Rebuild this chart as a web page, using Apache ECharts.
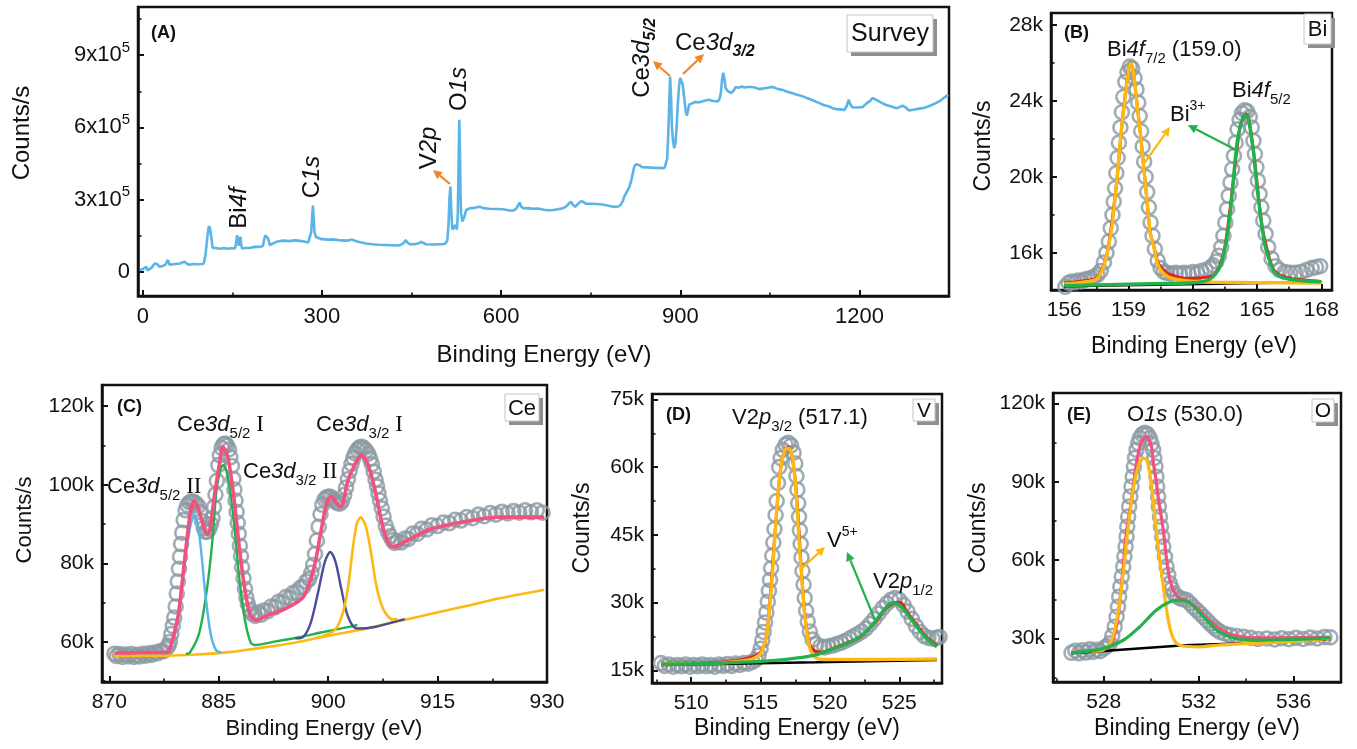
<!DOCTYPE html>
<html>
<head>
<meta charset="utf-8">
<script src="https://cdn.jsdelivr.net/npm/echarts@6/dist/echarts.min.js"></script>
<style>
  html, body { margin: 0; padding: 0; background: #fff; }
  #chart { width: 1357px; height: 749px; }
</style>
</head>
<body>
<div id="chart"></div>
<script>
// values: binding energy (eV), counts in thousands per second

// (A) survey
const surveyCurve = [
  [-5,8],[0,12],[3,20],[6,21],[8,6],[11,14],[15,18],[20,35],[24,33],[28,21],[33,25],[38,30],[42,50],[45,30],[48,29],
  [55,33],[62,35],[70,42],[74,34],[78,30],[85,33],[92,32],[98,33],[102,34],[105,70],[107.5,132],[110,180],[111,190],
  [113,175],[115,140],[117,100],[120,92],[124,98],[130,96],[136,99],[142,96],[148,98],[154,97],[156,115],[158,153],
  [159.5,120],[161,110],[163.5,146],[165,110],[166.5,97],[172,99],[180,100],[188,104],[196,104],[201,108],[203,130],
  [205,152],[207,150],[209.5,140],[213,111],[218,118],[225,126],[235,130],[245,128],[255,131],[263,129],[270,126],
  [277,122],[280,128],[282,165],[284,240],[285,275],[286,230],[287.5,165],[290,145],[293,137],[300,136],[310,134],
  [318,135],[328,132],[338,130],[346,131],[350,135],[354,130],[362,124],[374,118],[385,115],[395,113],[405,112],
  [415,111],[425,110],[432,112],[437,120],[440,132],[443,122],[447,115],[455,115],[462,119],[466,125],[470,120],
  [474,115],[485,114],[495,115],[502,115],[507,118],[510,132],[512,200],[513.5,300],[515,354],[516.5,260],[518,185],
  [519,176],[521,185],[523,195],[525,185],[526,176],[527.5,240],[529,480],[530,632],[531,520],[532,330],[533,243],
  [535,210],[536,205],[538,225],[541.5,257],[548,265],[555,266],[564,271],[570,265],[580,262],[592,261],[603,260],
  [612,256],[620,254],[625,262],[629,278],[631,288],[634,270],[638,264],[646,265],[654,262],[662,263],[672,258],
  [680,256],[687,257],[695,260],[702,263],[708,270],[713,282],[717,292],[720,280],[724,270],[729,283],[734,294],
  [738,290],[742,283],[750,283],[760,282],[770,280],[780,275],[788,271],[792,270],[796,272],[800,277],[804,295],
  [806,312],[810,330],[815,354],[818,380],[821,415],[823,437],[826,447],[829,449],[832,443],[836,435],[845,434],
  [855,432],[865,432],[870,431],[874,433],[876,437],[878,470],[880,578],[881.5,700],[883,810],[884.5,730],[886,604],
  [888,540],[890,514],[892,535],[894,604],[896,700],[898,771],[900,805],[902,810],[904,780],[907,715],[909,670],
  [911,649],[913,670],[915,695],[920,700],[925,706],[930,704],[937,708],[942,712],[948,715],[955,710],[963,708],
  [966,720],[968,743],[970,800],[972,827],[974,800],[976,762],[980,750],[985,743],[989,752],[993,768],[998,765],
  [1003,770],[1008,766],[1013,768],[1018,768],[1021,776],[1025,766],[1032,759],[1040,762],[1048,766],[1055,768],
  [1060,763],[1066,758],[1072,755],[1077,750],[1085,744],[1093,738],[1100,733],[1105,729],[1112,722],[1120,715],
  [1127,707],[1133,701],[1140,693],[1148,688],[1155,680],[1161,676],[1168,675],[1175,673],[1179,690],[1182,715],
  [1185,695],[1188,684],[1195,683],[1200,684],[1205,684],[1212,700],[1218,710],[1222,722],[1225,720],[1230,712],
  [1238,701],[1245,693],[1252,688],[1261,680],[1266,683],[1272,690],[1277,684],[1283,670],[1290,673],[1298,677],
  [1306,680],[1314,686],[1322,694],[1328,701],[1335,710],[1340,720],[1345,729],[1349,735]
];
const surveyTicksX = [0, 300, 600, 900, 1200];
const surveyTicksY = [0, 300, 600, 900];

// (B) Bi 4f
const biScan = [
  [156.05,14.22],[156.2,14.42],[156.35,14.5],[156.5,14.45],[156.65,14.55],[156.8,14.5],[156.95,14.6],[157.1,14.62],
  [157.25,14.68],[157.4,14.75],[157.55,14.85],[157.7,15.05],[157.85,15.5],[157.97,16.0],[158.08,16.6],[158.17,17.3],
  [158.25,18.0],[158.31,18.7],[158.37,19.4],[158.43,20.2],[158.49,21.0],[158.55,21.8],[158.62,22.6],[158.69,23.4],
  [158.76,24.2],[158.85,25.0],[158.95,25.5],[159.06,25.8],[159.17,25.7],[159.28,25.2],[159.37,24.6],[159.45,23.9],
  [159.52,23.2],[159.59,22.4],[159.66,21.6],[159.73,20.8],[159.8,20.0],[159.87,19.2],[159.95,18.4],[160.03,17.6],
  [160.12,16.9],[160.23,16.2],[160.36,15.6],[160.5,15.2],[160.65,15.0],[160.8,14.95],[161.0,14.9],[161.2,14.95],
  [161.4,14.9],[161.6,14.95],[161.8,14.92],[162.0,15.0],[162.2,14.95],[162.4,15.05],[162.6,15.1],[162.8,15.2],
  [162.95,15.35],[163.1,15.55],[163.22,15.85],[163.33,16.3],[163.43,16.9],[163.52,17.6],[163.6,18.3],[163.68,19.0],
  [163.76,19.7],[163.84,20.4],[163.92,21.1],[164.0,21.8],[164.09,22.5],[164.19,23.0],[164.3,23.35],[164.42,23.5],
  [164.54,23.45],[164.66,23.15],[164.75,22.6],[164.83,21.9],[164.9,21.2],[164.97,20.5],[165.04,19.8],[165.12,19.1],
  [165.2,18.4],[165.29,17.7],[165.4,17.0],[165.52,16.3],[165.68,15.7],[165.86,15.3],[166.05,15.1],[166.3,15.0],
  [166.55,14.95],[166.8,14.95],[167.05,15.0],[167.3,15.1],[167.55,15.2],[167.75,15.25],[167.95,15.3]
];
const biEnvelope = [
  [156.0,14.42],[156.6,14.48],[157.1,14.56],[157.5,14.68],[157.84,15.36],[158.07,16.42],[158.43,19.56],[158.77,23.58],
  [159.1,26.03],[159.46,23.22],[159.78,19.72],[160.01,17.1],[160.17,16.42],[160.4,15.42],[160.8,14.95],[161.2,14.78],
  [161.73,14.66],[162.4,14.7],[162.97,14.82],[163.28,15.4],[163.52,16.45],[163.87,19.56],[164.22,22.7],[164.5,23.32],
  [164.84,21.3],[165.23,17.45],[165.62,15.55],[165.8,15.08],[166.1,14.82],[166.6,14.66],[167.3,14.56],[168.0,14.5]
];
const biBackground = [[156.0,14.25],[168.0,14.47]];
const bi4f72 = [
  [156.0,14.36],[156.6,14.42],[157.1,14.5],[157.5,14.62],[157.84,15.3],[158.07,16.35],[158.23,17.4],[158.33,18.45],
  [158.43,19.5],[158.54,20.9],[158.65,22.3],[158.77,23.53],[158.88,24.58],[159.0,25.55],[159.1,25.99],[159.22,25.55],
  [159.34,24.41],[159.46,23.18],[159.55,22.3],[159.67,20.9],[159.78,19.68],[159.89,18.45],[160.01,17.05],
  [160.17,16.35],[160.4,15.3],[160.8,14.77],[161.3,14.6],[162.0,14.5],[163.0,14.46],[165.0,14.44],[168.0,14.42]
];
const bi4f52 = [
  [156.0,14.28],[158.0,14.33],[160.0,14.38],[162.04,14.43],[162.8,14.62],[163.28,15.3],[163.52,16.35],[163.67,17.4],
  [163.78,18.45],[163.87,19.5],[163.98,20.9],[164.09,21.96],[164.22,22.66],[164.37,23.18],[164.5,23.27],[164.6,23.0],
  [164.71,22.3],[164.84,21.26],[164.96,19.86],[165.07,18.8],[165.23,17.4],[165.38,16.35],[165.62,15.48],[165.8,15.0],
  [166.1,14.75],[166.6,14.6],[167.3,14.52],[168.0,14.48]
];
const biTicksX = [156, 159, 162, 165, 168];
const biTicksY = [16, 20, 24, 28];

// (C) Ce 3d
const ceScan = [
  [870.7,57.0],[871.0,56.4],[871.4,56.9],[871.8,56.2],[872.2,56.8],[872.6,56.3],[873.0,56.9],[873.4,56.2],[873.8,56.7],
  [874.2,56.3],[874.6,57.0],[875.0,56.5],[875.4,57.1],[875.8,56.7],[876.2,57.3],[876.6,57.1],[877.0,57.7],[877.4,57.6],
  [877.8,58.3],[878.1,59.0],[878.3,60.0],[878.5,62.0],[878.7,64.0],[878.9,66.2],[879.1,69.0],[879.25,72.3],[879.4,75.4],
  [879.55,78.6],[879.7,81.7],[879.85,84.9],[880.0,87.8],[880.2,91.0],[880.45,93.5],[880.7,94.8],[881.0,95.5],
  [881.3,95.8],[881.6,95.6],[881.9,95.2],[882.2,94.6],[882.45,93.0],[882.7,90.8],[882.95,89.0],[883.2,88.0],
  [883.45,88.1],[883.7,88.8],[883.95,90.0],[884.15,91.5],[884.35,94.3],[884.55,97.5],[884.75,101.0],[884.95,105.0],
  [885.15,107.5],[885.4,109.4],[885.65,110.3],[885.9,110.5],[886.15,110.0],[886.4,109.0],[886.6,107.0],[886.8,104.8],
  [887.0,101.5],[887.15,98.8],[887.3,96.0],[887.45,93.1],[887.6,90.3],[887.75,87.5],[887.9,84.5],[888.05,81.8],
  [888.2,79.0],[888.4,76.2],[888.6,73.5],[888.8,71.3],[889.0,69.6],[889.3,68.1],[889.6,67.2],[890.0,66.6],[890.4,67.5],
  [890.8,66.9],[891.2,68.0],[891.7,67.8],[892.2,69.0],[892.7,68.8],[893.2,70.2],[893.7,70.0],[894.2,71.4],[894.7,71.2],
  [895.2,72.5],[895.7,72.6],[896.2,73.8],[896.6,74.0],[897.0,75.4],[897.4,76.0],[897.7,77.6],[897.95,79.6],[898.2,82.4],
  [898.45,85.8],[898.7,89.3],[898.95,92.5],[899.2,94.9],[899.5,96.3],[899.8,96.8],[900.1,97.0],[900.4,96.8],[900.7,96.2],
  [901.0,95.7],[901.3,95.3],[901.6,95.2],[901.9,95.8],[902.2,97.4],[902.45,99.3],[902.7,101.4],[902.95,103.5],
  [903.2,105.3],[903.45,106.8],[903.7,108.0],[904.0,108.9],[904.3,109.5],[904.6,109.7],[904.9,109.3],[905.2,108.7],
  [905.5,107.9],[905.75,106.6],[906.0,105.2],[906.25,103.3],[906.5,101.3],[906.7,99.6],[906.9,97.8],[907.1,96.0],
  [907.35,94.0],[907.6,91.9],[907.9,89.6],[908.2,88.1],[908.5,86.9],[908.8,85.9],[909.1,85.2],[909.5,85.6],[910.0,85.3],
  [910.5,86.3],[911.0,86.2],[911.6,87.6],[912.2,87.5],[912.8,88.8],[913.5,88.6],[914.2,89.7],[915.0,89.5],[915.8,90.4],
  [916.6,90.2],[917.4,91.1],[918.2,90.9],[919.0,91.8],[919.8,91.5],[920.6,92.4],[921.4,92.0],[922.2,92.8],[923.0,92.4],
  [923.8,93.1],[924.6,92.7],[925.4,93.3],[926.2,92.9],[927.0,93.5],[927.8,93.0],[928.6,93.5],[929.4,92.9]
];
const ceEnvelope = [
  [870.7,57.2],[872.5,57.2],[874.5,57.3],[876.5,57.3],[878.02,57.4],[878.51,59.6],[879.0,63.0],[879.49,67.2],
  [880.22,79.1],[880.96,91.0],[881.3,94.5],[881.6,95.9],[881.95,95.0],[882.42,92.7],[883.16,88.0],[883.5,87.5],
  [883.8,88.6],[884.38,96.9],[885.11,105.4],[885.55,109.6],[886.0,108.5],[886.34,106.3],[887.07,96.9],[887.81,84.2],
  [888.53,74.0],[889.27,67.2],[890.01,65.5],[891.73,66.8],[894.16,68.5],[896.62,71.5],[898.08,79.1],[899.05,88.5],
  [899.79,95.2],[900.42,97.1],[901.25,95.1],[901.75,94.4],[902.73,101.2],[903.71,105.4],[904.54,107.5],[905.42,105.4],
  [906.4,98.9],[907.37,90.2],[908.11,85.9],[908.85,84.2],[911.29,86.3],[913.74,88.5],[916.18,89.7],[918.63,90.6],
  [923.52,91.8],[929.63,91.7]
];
const ceBackground = [
  [870.7,56.5],[878.0,56.5],[882.0,56.8],[886.5,57.4],[890.0,58.3],[894.75,59.6],[899.3,61.3],[905.26,63.4],
  [910.2,65.5],[914.0,67.1],[918.6,69.0],[923.5,71.1],[929.63,73.3]
];
const ce3d52II = [
  [877.5,57.2],[878.02,57.3],[879.0,62.1],[879.74,71.5],[880.47,82.5],[881.2,90.2],[881.68,92.3],[882.18,89.3],
  [882.67,81.7],[883.16,72.3],[883.89,62.1],[884.63,57.9],[885.36,57.3]
];
const ce3d52I = [
  [880.5,57.0],[881.05,57.3],[882.3,62.1],[883.3,72.3],[884.05,84.2],[884.7,98.6],[885.25,103.9],[885.6,105.0],
  [886.0,103.8],[886.4,100.5],[887.1,90.2],[887.85,75.7],[888.6,65.5],[889.35,60.0],[889.96,59.2],[893.0,60.2],
  [896.0,61.2],[899.0,62.4],[902.0,63.5],[904.0,64.3]
];
const ce3d32II = [
  [895.5,60.9],[896.6,61.3],[897.59,64.7],[898.58,72.3],[899.55,80.4],[900.29,82.9],[901.01,80.4],[901.75,74.0],
  [902.73,66.4],[903.95,63.4],[906.4,63.8],[909.82,65.5],[910.5,65.8]
];
const ce3d32I = [
  [898.5,61.1],[899.05,61.3],[900.9,63.0],[901.99,67.2],[902.73,74.0],[903.47,85.1],[903.95,90.2],[904.44,91.7],
  [905.18,89.3],[905.9,82.5],[906.64,74.0],[907.62,68.1],[908.85,65.7],[909.5,65.9]
];
const ceTicksX = [870, 885, 900, 915, 930];
const ceTicksY = [60, 80, 100, 120];

// (D) V 2p
const vScan = [
  [507.82,16.6],[508.1,16.0],[508.4,16.3],[508.7,15.8],[509.0,16.2],[509.3,15.9],[509.6,16.3],[509.9,15.8],[510.2,16.2],
  [510.5,15.9],[510.8,16.3],[511.1,15.9],[511.4,16.2],[511.7,15.8],[512.0,16.3],[512.3,16.0],[512.6,16.4],[512.9,16.0],
  [513.2,16.5],[513.5,16.2],[513.8,16.6],[514.1,16.5],[514.4,16.9],[514.65,17.3],[514.85,18.3],[515.0,19.8],
  [515.12,21.6],[515.22,23.5],[515.32,25.6],[515.42,27.8],[515.52,30.2],[515.6,32.6],[515.68,35.0],[515.76,37.6],
  [515.84,40.4],[515.92,43.3],[516.0,46.3],[516.08,49.4],[516.16,52.5],[516.25,56.5],[516.34,60.0],[516.45,62.0],
  [516.6,63.8],[516.8,65.0],[517.0,65.4],[517.2,64.8],[517.38,63.2],[517.5,60.8],[517.58,58.0],[517.65,55.0],
  [517.71,52.0],[517.77,49.0],[517.83,46.0],[517.89,43.0],[517.95,40.0],[518.02,37.0],[518.1,34.0],[518.18,31.0],
  [518.28,28.2],[518.4,25.8],[518.55,23.6],[518.75,21.8],[519.0,20.8],[519.3,20.3],[519.6,20.1],[519.9,20.3],
  [520.2,20.5],[520.5,20.8],[520.8,21.1],[521.1,21.5],[521.4,22.0],[521.7,22.5],[522.0,23.0],[522.3,23.6],[522.6,24.3],
  [522.9,25.3],[523.2,26.4],[523.5,27.6],[523.8,28.8],[524.1,29.8],[524.4,30.6],[524.7,31.0],[525.0,30.6],[525.3,29.5],
  [525.6,28.0],[525.9,26.4],[526.2,24.8],[526.5,23.5],[526.8,22.6],[527.1,22.2],[527.4,22.0],[527.7,22.2],[527.9,22.4]
];
const vEnvelope = [
  [507.82,16.6],[512.0,16.8],[514.0,17.6],[514.97,18.9],[515.46,23.4],[516.06,46.3],[516.54,61.8],[517.01,64.5],
  [517.49,57.4],[517.98,35.4],[518.22,26.6],[518.53,20.8],[518.94,19.2],[519.4,19.0],[519.78,19.3],[520.5,20.2],
  [521.5,21.4],[522.19,22.4],[523.39,26.1],[524.0,28.6],[524.59,29.9],[525.07,30.1],[525.55,28.0],[526.27,25.0],
  [526.99,22.3],[527.71,20.5]
];
const vBackground = [[507.82,16.2],[519.0,16.8],[527.71,17.3]];
const v2p32 = [
  [507.82,16.4],[510.0,16.5],[512.0,16.6],[514.0,17.2],[514.6,17.8],[514.97,18.6],[515.2,20.2],[515.46,23.1],
  [515.82,35.0],[516.06,46.0],[516.3,55.6],[516.54,61.5],[516.78,63.8],[517.01,64.2],[517.25,63.0],[517.49,57.1],
  [517.66,49.7],[517.8,42.3],[517.98,35.0],[518.22,26.1],[518.53,20.2],[518.94,17.9],[519.78,17.4],[523.0,17.4],
  [527.71,17.5]
];
const v2p12 = [
  [507.82,16.35],[510.0,16.45],[512.0,16.6],[515.0,17.0],[517.0,17.5],[518.82,18.3],[520.26,19.8],[521.49,21.3],
  [522.43,23.1],[523.15,25.4],[523.87,28.3],[524.47,29.9],[524.95,29.6],[525.55,27.6],[526.27,24.6],[526.99,22.0],
  [527.71,20.2]
];
const vTicksX = [510, 515, 520, 525];
const vTicksY = [15, 30, 45, 60, 75];

// (E) O 1s
const oScan = [
  [526.64,24.5],[526.8,25.3],[526.95,24.3],[527.1,25.5],[527.25,24.6],[527.4,25.8],[527.55,24.8],[527.7,25.6],
  [527.85,25.1],[528.0,26.2],[528.12,27.0],[528.25,28.1],[528.36,31.0],[528.46,34.5],[528.54,38.3],[528.6,42.1],
  [528.65,46.0],[528.7,49.8],[528.76,53.7],[528.82,57.5],[528.87,61.4],[528.92,65.2],[528.96,69.0],[528.99,72.9],
  [529.03,76.7],[529.07,80.6],[529.12,84.4],[529.17,88.2],[529.22,92.0],[529.27,95.9],[529.32,99.2],[529.38,102.3],
  [529.45,104.8],[529.52,106.8],[529.62,108.2],[529.73,108.8],[529.84,108.3],[529.94,106.8],[530.01,104.6],
  [530.08,102.3],[530.13,99.1],[530.18,95.9],[530.22,92.0],[530.25,88.2],[530.29,84.4],[530.32,80.6],[530.37,76.7],
  [530.41,72.9],[530.46,69.0],[530.51,65.2],[530.58,61.3],[530.65,57.5],[530.72,54.3],[530.79,51.1],[530.87,49.0],
  [530.96,47.3],[531.08,46.2],[531.21,45.4],[531.35,45.0],[531.49,44.7],[531.63,43.5],[531.77,42.1],[531.92,40.9],
  [532.06,39.6],[532.2,38.3],[532.34,37.0],[532.48,35.7],[532.62,34.5],[532.76,33.4],[532.9,32.5],[533.1,31.8],
  [533.32,31.3],[533.6,30.9],[533.89,30.6],[534.2,30.2],[534.5,29.8],[534.87,30.0],[535.2,29.6],[535.5,30.1],
  [535.8,29.7],[536.1,30.2],[536.4,29.8],[536.7,30.3],[537.0,30.0],[537.3,30.5],[537.55,30.4]
];
const oEnvelope = [
  [526.64,24.6],[527.5,25.3],[528.0,26.0],[528.25,26.8],[528.53,34.5],[528.74,49.8],[528.95,70.3],[529.17,83.1],
  [529.38,97.2],[529.59,105.5],[529.8,107.4],[530.01,103.6],[530.08,98.0],[530.2,91.0],[530.29,84.4],[530.51,71.6],
  [530.65,60.1],[530.79,52.4],[531.0,47.3],[531.21,45.4],[531.5,44.6],[532.0,41.0],[532.5,36.5],[533.0,33.0],
  [533.5,31.2],[534.5,30.2],[537.55,30.5]
];
const oBackground = [[526.64,24.3],[531.4,27.4],[534.0,28.2],[537.55,29.8]];
const o1sLattice = [
  [527.5,25.0],[527.97,25.5],[528.33,29.3],[528.6,39.6],[528.82,55.0],[529.03,72.9],[529.24,87.0],[529.45,95.9],
  [529.66,99.1],[529.8,98.5],[529.94,93.4],[530.11,80.6],[530.29,65.2],[530.51,49.8],[530.72,37.0],[530.93,30.0],
  [531.21,27.4],[532.06,26.8],[532.76,27.4],[534.17,28.1],[535.57,28.7],[537.55,30.0]
];
const o1sSecond = [
  [526.64,24.5],[527.83,25.8],[528.82,29.3],[529.52,34.5],[530.22,40.9],[530.79,44.1],[531.21,44.7],[531.63,43.5],
  [532.2,38.3],[532.76,33.2],[533.47,30.2],[534.17,29.4],[535.57,29.5],[537.55,30.2]
];
const oTicksX = [528, 532, 536];
const oTicksY = [30, 60, 90, 120];

// ---------------------------------------------------------------
const FONT = 'Arial, "Liberation Sans", sans-serif';
const SERIF = '"Times New Roman", "Liberation Serif", serif';
const INK = '#111';
const C_YEL = '#fdb913', C_GRN = '#22b24c', C_PINK = '#f2507e', C_RED = '#e2231a';
const C_SKY = '#5ab4e5', C_NAVY = '#4b4c9c', C_RING = '#8a99a3', C_ARROW = '#f0862a';

const chart = echarts.init(document.getElementById('chart'));

function minorOf(major, min, max) {
  const step = major[1] - major[0];
  const out = [];
  for (let v = major[0] - step / 2; v <= max + 1e-9; v += step) if (v >= min) out.push(v);
  return out;
}

// panel layouts
const panels = [
  { rect: { left: 138, top: 7, width: 811, height: 289 }, x: [-8, 1350], y: [-100, 1100], tx: surveyTicksX, ty: surveyTicksY, fs: 22 },
  { rect: { left: 1051, top: 13, width: 281, height: 277 }, x: [155.38, 168.5], y: [14.05, 28.62], tx: biTicksX, ty: biTicksY, fs: 21 },
  { rect: { left: 102, top: 385, width: 445, height: 297 }, x: [869, 930], y: [49.8, 125.4], tx: ceTicksX, ty: ceTicksY, fs: 21 },
  { rect: { left: 652, top: 394, width: 290, height: 289 }, x: [507.17, 528.08], y: [12.2, 76.2], tx: vTicksX, ty: vTicksY, fs: 21 },
  { rect: { left: 1053, top: 393, width: 288, height: 289 }, x: [525.86, 538.0], y: [13.3, 124.1], tx: oTicksX, ty: oTicksY, fs: 21 }
];

const grids = [], xAxes = [], yAxes = [];
panels.forEach((p, gi) => {
  grids.push(Object.assign({ show: true, borderColor: INK, borderWidth: 2.5, backgroundColor: 'transparent', containLabel: false, outerBoundsMode: 'none' }, p.rect));
  const tick = { show: true, inside: true, length: 6, lineStyle: { color: INK, width: 2 } };
  const minorTick = { show: true, inside: true, length: 3.5, lineStyle: { color: INK, width: 1.6 } };
  xAxes.push({
    type: 'value', gridIndex: gi, min: p.x[0], max: p.x[1], position: 'bottom',
    axisLine: { show: true, onZero: false, lineStyle: { color: INK, width: 2.5 } },
    axisTick: Object.assign({ customValues: p.tx }, tick),
    axisLabel: { customValues: p.tx, fontSize: p.fs, fontFamily: FONT, color: INK, margin: 10, formatter: v => String(v) },
    splitLine: { show: false }
  }, {
    type: 'value', gridIndex: gi, min: p.x[0], max: p.x[1], position: 'bottom',
    axisLine: { show: false, onZero: false }, axisLabel: { show: false }, splitLine: { show: false },
    axisTick: Object.assign({ customValues: minorOf(p.tx, p.x[0], p.x[1]) }, minorTick)
  });
  const yLabel = { customValues: p.ty, fontSize: p.fs, fontFamily: FONT, color: INK, margin: 8 };
  if (gi === 0) {
    yLabel.formatter = v => v === 0 ? '{n|0}' : '{n|' + (v / 100) + 'x10}{sup|5}';
    yLabel.rich = {
      n: { fontSize: 22, fontFamily: FONT, color: INK, lineHeight: 30 },
      sup: { fontSize: 15, fontFamily: FONT, color: INK, lineHeight: 15, verticalAlign: 'top' }
    };
  } else {
    yLabel.formatter = v => v + 'k';
  }
  yAxes.push({
    type: 'value', gridIndex: gi, min: p.y[0], max: p.y[1], position: 'left',
    axisLine: { show: true, onZero: false, lineStyle: { color: INK, width: 2.5 } },
    axisTick: Object.assign({ customValues: p.ty }, tick),
    axisLabel: yLabel,
    splitLine: { show: false }
  }, {
    type: 'value', gridIndex: gi, min: p.y[0], max: p.y[1], position: 'left',
    axisLine: { show: false, onZero: false }, axisLabel: { show: false }, splitLine: { show: false },
    axisTick: Object.assign({ customValues: minorOf(p.ty, p.y[0], p.y[1]) }, minorTick)
  });
});

function scan(gi, data) {
  return {
    type: 'scatter', xAxisIndex: gi * 2, yAxisIndex: gi * 2, data, symbol: 'circle', symbolSize: 14,
    itemStyle: { color: 'rgba(0,0,0,0)', borderColor: C_RING, borderWidth: 2.6 }, silent: true, z: 2
  };
}
function curve(gi, data, color, width, smooth) {
  return {
    type: 'line', xAxisIndex: gi * 2, yAxisIndex: gi * 2, data, showSymbol: false, symbol: 'none',
    smooth: smooth === undefined ? 0.3 : smooth, lineStyle: { color, width }, silent: true, z: 3
  };
}

const series = [
  curve(0, surveyCurve, C_SKY, 2.6, false),

  scan(1, biScan),
  curve(1, biEnvelope, C_RED, 3),
  curve(1, biBackground, '#000', 2.5, false),
  curve(1, bi4f72, C_YEL, 3.4),
  curve(1, bi4f52, C_GRN, 3.4),

  scan(2, ceScan),
  curve(2, ceBackground, C_YEL, 2.6),
  curve(2, ce3d52I, C_GRN, 2.4),
  curve(2, ce3d32II, C_NAVY, 2.4),
  curve(2, ce3d32I, C_YEL, 2.6),
  curve(2, ce3d52II, C_SKY, 2.4),
  curve(2, ceEnvelope, C_PINK, 3.6),

  scan(3, vScan),
  curve(3, vEnvelope, C_RED, 3),
  curve(3, vBackground, '#000', 2.5, false),
  curve(3, v2p32, C_YEL, 3.4),
  curve(3, v2p12, C_GRN, 3.4),

  scan(4, oScan),
  curve(4, oBackground, '#000', 2.5, false),
  curve(4, oEnvelope, C_PINK, 3.2),
  curve(4, o1sLattice, C_YEL, 3.2),
  curve(4, o1sSecond, C_GRN, 3.2)
];

// ---- annotations ----
function richSet(fs, sfs) {
  const lh = fs + 10;
  const base = { fontFamily: FONT, fill: INK, color: INK };
  return {
    n: Object.assign({ fontSize: fs, lineHeight: lh }, base),
    i: Object.assign({ fontSize: fs, lineHeight: lh, fontStyle: 'italic' }, base),
    sub: Object.assign({ fontSize: sfs, lineHeight: sfs, verticalAlign: 'bottom' }, base),
    subb: Object.assign({ fontSize: sfs, lineHeight: sfs, verticalAlign: 'bottom', fontStyle: 'italic', fontWeight: 'bold' }, base),
    sup: Object.assign({ fontSize: sfs, lineHeight: sfs, verticalAlign: 'top' }, base),
    b: Object.assign({ fontSize: fs, lineHeight: lh, fontWeight: 'bold' }, base),
    r: { fontSize: fs + 1, lineHeight: lh, fontFamily: SERIF, fill: INK, color: INK }
  };
}
function label(x, y, text, fs, sfs, opt) {
  opt = opt || {};
  const align = opt.align || 'left';
  return {
    type: 'text', x, y, rotation: opt.rot || 0, silent: true, z: 100,
    style: {
      text, rich: richSet(fs, sfs), font: fs + 'px ' + FONT, fill: INK,
      align, verticalAlign: 'middle', textAlign: align, textVerticalAlign: 'middle'
    }
  };
}
function arrow(x1, y1, x2, y2, color) {
  const a = Math.atan2(y2 - y1, x2 - x1), L = 9, W = 4.5;
  const bx = x2 - L * Math.cos(a), by = y2 - L * Math.sin(a);
  return [
    { type: 'line', silent: true, z: 100, shape: { x1, y1, x2: bx, y2: by }, style: { stroke: color, lineWidth: 2.2 } },
    { type: 'polygon', silent: true, z: 100, shape: { points: [[x2, y2], [bx + W * Math.sin(a), by - W * Math.cos(a)], [bx - W * Math.sin(a), by + W * Math.cos(a)]] }, style: { fill: color } }
  ];
}
function tagBox(x, y, w, h, text, fs) {
  return [
    { type: 'rect', silent: true, z: 99, shape: { x: x + 4, y: y + 4, width: w, height: h }, style: { fill: '#8e8e8e' } },
    { type: 'rect', silent: true, z: 100, shape: { x, y, width: w, height: h }, style: { fill: '#fff', stroke: '#c4c4c4', lineWidth: 1 } },
    label(x + w / 2, y + h / 2 + 1, '{n|' + text + '}', fs, 14, { align: 'center' })
  ];
}
const ROT = Math.PI / 2;
const graphics = [
  // axis titles
  label(22, 133, '{n|Counts/s}', 24, 16, { align: 'center', rot: ROT }),
  label(544, 355, '{n|Binding Energy (eV)}', 24, 16, { align: 'center' }),
  label(984, 146, '{n|Counts/s}', 23, 15, { align: 'center', rot: ROT }),
  label(1194, 347, '{n|Binding Energy (eV)}', 23, 15, { align: 'center' }),
  label(25, 520, '{n|Counts/s}', 22, 15, { align: 'center', rot: ROT }),
  label(324, 729, '{n|Binding Energy (eV)}', 22, 15, { align: 'center' }),
  label(583, 528, '{n|Counts/s}', 23, 15, { align: 'center', rot: ROT }),
  label(797, 729, '{n|Binding Energy (eV)}', 23, 15, { align: 'center' }),
  label(979, 528, '{n|Counts/s}', 23, 15, { align: 'center', rot: ROT }),
  label(1197, 729, '{n|Binding Energy (eV)}', 23, 15, { align: 'center' }),

  // panel letters
  label(151, 33, '{b|(A)}', 18, 12),
  label(1064, 33, '{b|(B)}', 18, 12),
  label(117, 407, '{b|(C)}', 18, 12),
  label(666, 415, '{b|(D)}', 18, 12),
  label(1067, 415, '{b|(E)}', 18, 12),

  // (A) peak names
  label(239, 208, '{n|Bi}{i|4f}', 24, 16, { align: 'center', rot: ROT }),
  label(312, 177, '{n|C}{i|1s}', 24, 16, { align: 'center', rot: ROT }),
  label(429, 148, '{n|V}{i|2p}', 24, 16, { align: 'center', rot: ROT }),
  label(459, 89, '{n|O}{i|1s}', 24, 16, { align: 'center', rot: ROT }),
  label(642, 58, '{n|Ce}{i|3d}{subb|5/2}', 24, 16, { align: 'center', rot: ROT }),
  label(675, 43, '{n|Ce}{i|3d}{subb|3/2}', 24, 16),

  // (B)
  label(1107, 50, '{n|Bi}{i|4f}{sub|7/2}{n| (159.0)}', 22, 15),
  label(1232, 91, '{n|Bi}{i|4f}{sub|5/2}', 22, 15),
  label(1170, 115, '{n|Bi}{sup|3+}', 22, 14),

  // (C)
  label(177, 425, '{n|Ce}{i|3d}{sub|5/2}{r| I}', 22, 15),
  label(316, 425, '{n|Ce}{i|3d}{sub|3/2}{r| I}', 22, 15),
  label(107, 487, '{n|Ce}{i|3d}{sub|5/2}{r| II}', 22, 15),
  label(243, 472, '{n|Ce}{i|3d}{sub|3/2}{r| II}', 22, 15),

  // (D)
  label(732, 418, '{n|V2}{i|p}{sub|3/2}{n| (517.1)}', 22, 15),
  label(827, 541, '{n|V}{sup|5+}', 22, 14),
  label(873, 582, '{n|V2}{i|p}{sub|1/2}', 22, 15),

  // (E)
  label(1127, 415, '{n|O}{i|1s}{n| (530.0)}', 22, 15)
].concat(
  tagBox(847, 15, 86, 37, 'Survey', 25),
  tagBox(1304, 14, 27, 30, 'Bi', 22),
  tagBox(505, 394, 34, 27, 'Ce', 22),
  tagBox(913, 399, 22, 22, 'V', 21),
  tagBox(1312, 399, 22, 23, 'O', 21),
  arrow(450, 184, 433, 170, C_ARROW),
  arrow(670, 76, 653, 61, C_ARROW),
  arrow(683, 74, 704, 54, C_ARROW),
  arrow(1143, 165, 1170, 127, C_YEL),
  arrow(1238, 151, 1188, 125, C_GRN),
  arrow(800, 570, 825, 547, C_YEL),
  arrow(875, 620, 847, 552, C_GRN)
);

chart.setOption({
  animation: false,
  backgroundColor: '#fff',
  grid: grids,
  xAxis: xAxes,
  yAxis: yAxes,
  series,
  graphic: { elements: graphics }
});
</script>
</body>
</html>
